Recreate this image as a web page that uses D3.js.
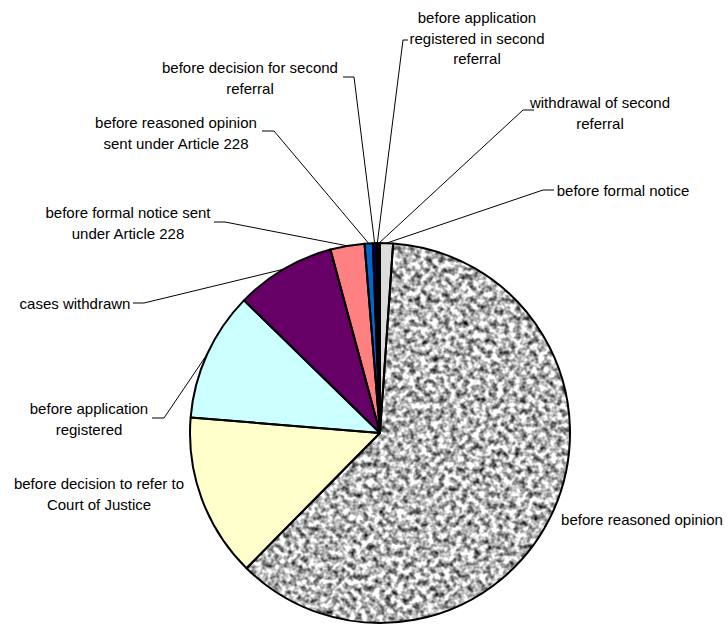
<!DOCTYPE html>
<html>
<head>
<meta charset="utf-8">
<script src="https://cdn.jsdelivr.net/npm/d3@7"></script>
<style>
  html, body { margin: 0; padding: 0; background: #fff; }
  svg { display: block; }
  text { font-family: "Liberation Sans", Arial, sans-serif; font-size: 15px; fill: #000; }
</style>
</head>
<body>
<svg id="chart" width="728" height="626"></svg>
<script>
// ---- data ----
const categories = [
  "before formal notice",
  "before reasoned opinion",
  "before decision to refer to Court of Justice",
  "before application registered",
  "cases withdrawn",
  "before formal notice sent under Article 228",
  "before reasoned opinion sent under Article 228",
  "before decision for second referral",
  "before application registered in second referral",
  "withdrawal of second referral"
];
const values = [1.1, 61.3, 13.9, 11.0, 8.5, 2.9, 0.7, 0.3, 0.15, 0.15];

// label text lines (as wrapped in the picture)
const labelLines = [
  ["before formal notice"],
  ["before reasoned opinion"],
  ["before decision to refer to", "Court of Justice"],
  ["before application", "registered"],
  ["cases withdrawn"],
  ["before formal notice sent", "under Article 228"],
  ["before reasoned opinion", "sent under Article 228"],
  ["before decision for second", "referral"],
  ["before application", "registered in second", "referral"],
  ["withdrawal of second", "referral"]
];

// ---- styles / layout ----
const colors = ["#dcdcdc", "#b0b0b0", "#ffffcc", "#ccffff", "#660066",
                "#ff8080", "#0066cc", "#000080", "#1a1a40", "#ffffff"];
const labelLayout = [
  {x: 623, y: 190, elbow: [543, 190], tick: 554},
  {x: 642, y: 519, elbow: null},
  {x: 99,  y: 483, elbow: null},
  {x: 89,  y: 408, elbow: [164, 418], tick: 152},
  {x: 75,  y: 303, elbow: [144, 303], tick: 133},
  {x: 128, y: 212, elbow: [225, 222], tick: 214},
  {x: 176, y: 122, elbow: [274, 131], tick: 262},
  {x: 250, y: 67,  elbow: [354, 77],  tick: 343},
  {x: 477, y: 17,  elbow: [403, 40],  tick: 408},
  {x: 600, y: 102, elbow: [523, 110], tick: 534}
];
const lineHeight = 20.5;
const cx = 380, cy = 433, R = 190;

const svg = d3.select("#chart");
const defs = svg.append("defs");

// granite texture filter
const filt = defs.append("filter").attr("id", "graniteFilter")
  .attr("x", 0).attr("y", 0).attr("width", 1).attr("height", 1)
  .attr("color-interpolation-filters", "sRGB");
filt.append("feTurbulence").attr("type", "fractalNoise")
  .attr("baseFrequency", 0.17).attr("numOctaves", 2).attr("seed", 7).attr("result", "noise");
filt.append("feColorMatrix").attr("in", "noise").attr("type", "matrix")
  .attr("values", "1.8 0 0 0 -0.18  1.8 0 0 0 -0.18  1.8 0 0 0 -0.18  0 0 0 0 1")
  .attr("result", "grey");
filt.append("feComposite").attr("in", "grey").attr("in2", "SourceGraphic").attr("operator", "in");

const pie = d3.pie().sort(null).value(d => d).startAngle(0).endAngle(2 * Math.PI);
const arcs = pie(values);
const arc = d3.arc().innerRadius(0).outerRadius(R);

const g = svg.append("g").attr("transform", `translate(${cx},${cy})`);

// fills
g.selectAll("path.fill").data(arcs).join("path")
  .attr("class", "fill")
  .attr("d", arc)
  .attr("fill", (d, i) => colors[i])
  .attr("filter", (d, i) => i === 1 ? "url(#graniteFilter)" : null);

// borders
g.selectAll("path.border").data(arcs).join("path")
  .attr("class", "border")
  .attr("d", arc)
  .attr("fill", "none")
  .attr("stroke", "#000")
  .attr("stroke-width", 2)
  .attr("stroke-linejoin", "round");

// leader lines
arcs.forEach((a, i) => {
  const L = labelLayout[i];
  if (!L.elbow) return;
  const mid = (a.startAngle + a.endAngle) / 2;
  const px = cx + R * Math.sin(mid);
  const py = cy - R * Math.cos(mid);
  svg.append("polyline")
    .attr("points", `${L.tick},${L.elbow[1]} ${L.elbow[0]},${L.elbow[1]} ${px},${py}`)
    .attr("fill", "none")
    .attr("stroke", "#000")
    .attr("stroke-width", 1);
});

// labels
labelLayout.forEach((L, i) => {
  const t = svg.append("text")
    .attr("text-anchor", "middle")
    .attr("dominant-baseline", "central");
  labelLines[i].forEach((ln, k) => {
    t.append("tspan").attr("x", L.x).attr("y", L.y + k * lineHeight).text(ln);
  });
});
</script>
</body>
</html>
